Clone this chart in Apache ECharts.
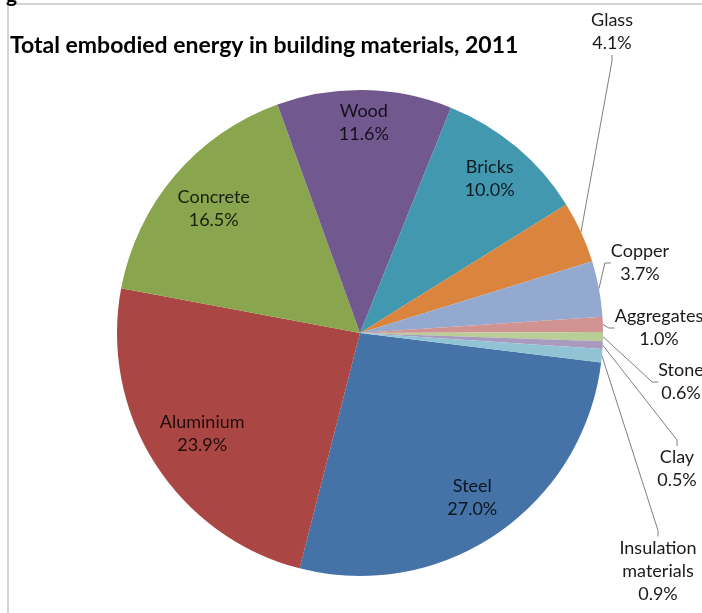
<!DOCTYPE html>
<html>
<head>
<meta charset="utf-8">
<script src="https://cdn.jsdelivr.net/npm/echarts@6/dist/echarts.min.js"></script>
<style>
  html, body { margin: 0; padding: 0; background: #fff; }
  #main { width: 702px; height: 613px; }
</style>
</head>
<body>
<div id="main"></div>
<script>
    // materials in drawing order (clockwise from the right, just below 3 o'clock)
    var materials = ['Steel', 'Aluminium', 'Concrete', 'Wood', 'Bricks', 'Glass',
                     'Copper', 'Aggregates', 'Stone', 'Clay', 'Insulation\nmaterials'];
    var shares = [27.0, 23.9, 16.5, 11.6, 10.0, 4.1, 3.7, 1.0, 0.6, 0.5, 0.9];
    var sliceColors = ['#4572A7', '#AA4643', '#89A54E', '#71588F', '#4198AF', '#DB843D',
                       '#93A9CF', '#D19392', '#B9CD96', '#A99BBD', '#91C3D5'];

    var CX = 360, CY = 333, R = 243;
    var insideCount = 5;      // the big slices carry their label inside
    // how far out (fraction of radius) each inside label sits, Excel "best fit" style
    var insideRadius = [0.82, 0.77, 0.79, 0.865, 0.83];

    // where the small-slice labels sit (label centre)
    var labelSpots = {
        5: [612, 32],
        6: [640, 263],
        7: [659, 328],
        8: [681, 382],
        9: [677, 469],
        10: [658, 571]
    };

    var chart = echarts.init(document.getElementById('main'));

    var seriesData = [];
    for (var i = 0; i < materials.length; i++) {
        var inside = i < insideCount;
        seriesData.push({
            name: materials[i],
            value: shares[i],
            itemStyle: { color: sliceColors[i] },
            label: {
                position: inside ? 'inside' : 'outside',
                color: inside ? 'rgba(0,0,0,0.82)' : '#1a1a1a'
            },
            labelLine: { show: !inside }
        });
    }

    var option = {
        animation: false,
        backgroundColor: '#fff',
        title: {
            text: 'Total embodied energy in building materials, 2011',
            left: 10,
            top: 34,
            padding: 0,
            textStyle: {
                fontFamily: 'Lato',
                fontWeight: 'bold',
                fontSize: 23,
                color: '#000'
            }
        },
        graphic: [
            {
                type: 'rect',
                shape: { x: 8, y: 4, width: 720, height: 640 },
                style: { fill: 'none', stroke: '#d4d4d4', lineWidth: 2 },
                silent: true
            },
            {
                type: 'text',
                left: 6,
                top: -15,
                style: { text: 'g', font: 'bold 21px Lato', fill: '#000' },
                silent: true
            }
        ],
        series: [
            {
                name: 'Embodied energy',
                type: 'pie',
                center: [CX, CY],
                radius: [0, R],
                startAngle: -7,
                clockwise: true,
                avoidLabelOverlap: false,
                itemStyle: { borderWidth: 0 },
                label: {
                    fontFamily: 'Lato',
                    fontSize: 18,
                    lineHeight: 23,
                    align: 'center',
                    formatter: function (p) {
                        return p.name + '\n' + p.value.toFixed(1) + '%';
                    }
                },
                labelLine: {
                    length: 10,
                    length2: 6,
                    lineStyle: { color: '#808080', width: 1 }
                },
                labelLayout: function (p) {
                    var i = p.dataIndex;
                    if (i < insideCount) {
                        var lx = p.labelRect.x + p.labelRect.width / 2;
                        var ly = p.labelRect.y + p.labelRect.height / 2;
                        var d = Math.sqrt((lx - CX) * (lx - CX) + (ly - CY) * (ly - CY));
                        var k = insideRadius[i] * R / d;
                        return {
                            x: CX + (lx - CX) * k,
                            y: CY + (ly - CY) * k,
                            align: 'center',
                            verticalAlign: 'middle'
                        };
                    }
                    var spot = labelSpots[i];
                    return {
                        x: spot[0],
                        y: spot[1],
                        align: 'center',
                        verticalAlign: 'middle'
                    };
                },
                data: seriesData
            }
        ]
    };

    chart.setOption(option);
</script>
</body>
</html>
